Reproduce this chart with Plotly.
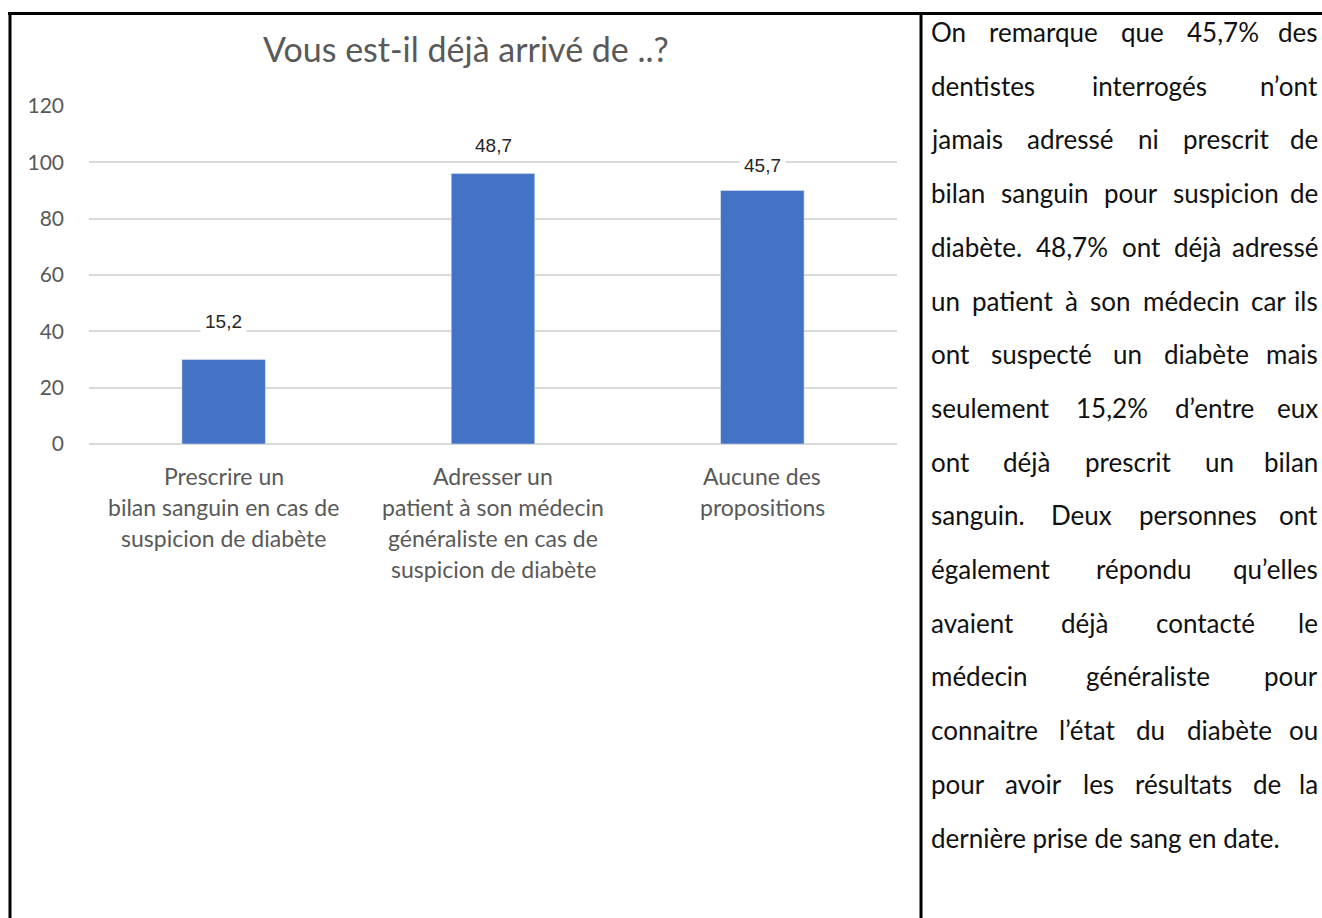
import plotly.graph_objects as go

# ---------------- data ----------------
categories = [
    "Prescrire un<br>bilan sanguin en cas de<br>suspicion de diabète",
    "Adresser un<br>patient à son médecin<br>généraliste en cas de<br>suspicion de diabète",
    "Aucune des<br>propositions",
]
counts = [30, 96, 90]
percent_labels = ["15,2", "48,7", "45,7"]
y_ticks = [0, 20, 40, 60, 80, 100, 120]
title_text = "Vous est-il déjà arrivé de ..?"

text_lines = [
    "On remarque que 45,7% des",
    "dentistes interrogés n’ont",
    "jamais adressé ni prescrit de",
    "bilan sanguin pour suspicion de",
    "diabète. 48,7% ont déjà adressé",
    "un patient à son médecin car ils",
    "ont suspecté un diabète mais",
    "seulement 15,2% d’entre eux",
    "ont déjà prescrit un bilan",
    "sanguin. Deux personnes ont",
    "également répondu qu’elles",
    "avaient déjà contacté le",
    "médecin généraliste pour",
    "connaitre l’état du diabète ou",
    "pour avoir les résultats de la",
    "dernière prise de sang en date.",
]

# ---------------- layout constants ----------------
W, H = 1322, 918
GRAY = "#595959"
BLUE = "#4472C4"
FONT = "Lato, Calibri, sans-serif"

def px(x):
    return x / W

def py(y):
    return 1 - y / H

fig = go.Figure()
fig.add_trace(go.Bar(
    x=categories, y=counts, marker_color=BLUE, width=0.31,
    hoverinfo="skip", showlegend=False,
))

# data labels
label_shift = [38, 28, 25]
for cat, v, lab, s in zip(categories, counts, percent_labels, label_shift):
    fig.add_annotation(
        x=cat, y=v, xref="x", yref="y", text=lab, showarrow=False,
        yshift=s, bgcolor="white", borderpad=4,
        font=dict(family="Liberation Sans Narrow, Arial", size=19, color="#262626"),
    )

# category labels, one annotation per line to control line spacing
for cat in categories:
    for i, line in enumerate(cat.split("<br>")):
        fig.add_annotation(
            x=cat, y=0, xref="x", yref="y", text=line, showarrow=False,
            yshift=-32 - 31 * i, yanchor="middle",
            font=dict(family=FONT, size=23, color=GRAY),
        )

# title
fig.add_annotation(
    x=px(466), y=py(49), xref="paper", yref="paper", text=title_text,
    showarrow=False, xanchor="center", yanchor="middle",
    font=dict(family=FONT, size=34, color=GRAY),
)

# ---------------- justified right-hand text ----------------
# approximate Lato advance widths (em), refined in the browser below
CW = {
    'a': .50, 'b': .55, 'c': .45, 'd': .55, 'e': .51, 'f': .31, 'g': .49, 'h': .55,
    'i': .23, 'j': .23, 'k': .48, 'l': .23, 'm': .83, 'n': .55, 'o': .55, 'p': .55,
    'q': .55, 'r': .36, 's': .41, 't': .33, 'u': .55, 'v': .49, 'w': .74, 'x': .47,
    'y': .49, 'z': .44, '%': .76, ',': .21, '.': .21, '’': .21, "'": .21,
    'O': .74, 'D': .70, 'é': .51, 'è': .51, 'à': .50, 'ê': .51,
}
FS = 26

def wwidth(w):
    return sum(CW.get(ch, .58) for ch in w) * FS * 1.04

L, R = 929, 1320
y0, dy = 32, 53.7
tfont = dict(family=FONT, size=FS, color="#111111")
for k, line in enumerate(text_lines):
    y = py(y0 + k * dy)
    words = line.split(" ")
    if k == len(text_lines) - 1 or len(words) == 1:
        fig.add_annotation(x=px(L), y=y, xref="paper", yref="paper", text=line,
                           showarrow=False, xanchor="left", yanchor="middle", font=tfont)
        continue
    widths = [wwidth(w) for w in words]
    gap = (R - L - sum(widths)) / (len(words) - 1)
    pos = L
    for j, (w, wd) in enumerate(zip(words, widths)):
        last = j == len(words) - 1
        fig.add_annotation(x=px(R) if last else px(pos), y=y, xref="paper", yref="paper",
                           text=w, name=f"jw_{k}_{j}", showarrow=False,
                           xanchor="right" if last else "left", yanchor="middle", font=tfont)
        pos += wd + gap

# table borders
border = dict(color="black", width=3)
fig.add_shape(type="line", xref="paper", yref="paper", x0=px(8), x1=1, y0=py(13.5), y1=py(13.5), line=border)
fig.add_shape(type="line", xref="paper", yref="paper", x0=px(10), x1=px(10), y0=py(12), y1=0, line=border)
fig.add_shape(type="line", xref="paper", yref="paper", x0=px(921), x1=px(921), y0=py(12), y1=0, line=border)

fig.update_layout(
    width=W, height=H,
    margin=dict(l=0, r=0, t=0, b=0, pad=0, autoexpand=False),
    paper_bgcolor="white", plot_bgcolor="white",
    bargap=0.69,
    xaxis=dict(domain=[px(89), px(897)], showticklabels=False, showgrid=False,
               zeroline=False, showline=False, fixedrange=True, automargin=False),
    yaxis=dict(domain=[py(444), py(106)], range=[0, 120], tickvals=y_ticks,
               showgrid=True, gridcolor="#d9d9d9", gridwidth=1.5,
               zeroline=True, zerolinecolor="#d9d9d9", zerolinewidth=1.5,
               showline=False, ticks="", ticklabelstandoff=24, automargin=False,
               tickfont=dict(family=FONT, size=21, color=GRAY),
               fixedrange=True),
)

js = """
document.body.style.margin='0';document.body.style.overflow='hidden';
(function(){
  var gd = document.getElementById('{plot_id}');
  var L = %d, R = %d, W = %d, FS = %d;
  function justify(){
    var ctx = document.createElement('canvas').getContext('2d');
    ctx.font = FS + 'px Lato';
    var anns = gd.layout.annotations, groups = {};
    anns.forEach(function(a, i){
      if (a.name && a.name.indexOf('jw_') === 0) {
        var p = a.name.split('_');
        (groups[p[1]] = groups[p[1]] || []).push({i: i, wi: +p[2], t: a.text});
      }
    });
    var upd = {};
    Object.keys(groups).forEach(function(k){
      var g = groups[k].sort(function(a, b){ return a.wi - b.wi; });
      var ws = g.map(function(o){ return ctx.measureText(o.t).width; });
      var tot = ws.reduce(function(a, b){ return a + b; }, 0);
      var gap = (R - L - tot) / (g.length - 1);
      var pos = L;
      g.forEach(function(o, j){
        if (j < g.length - 1) { upd['annotations[' + o.i + '].x'] = pos / W; }
        pos += ws[j] + gap;
      });
    });
    Plotly.relayout(gd, upd);
  }
  if (document.fonts && document.fonts.ready) { document.fonts.ready.then(justify); } else { justify(); }
})();
""" % (L, R, W, FS)

fig.write_html("out.html", config={"displayModeBar": False}, post_script=js)
